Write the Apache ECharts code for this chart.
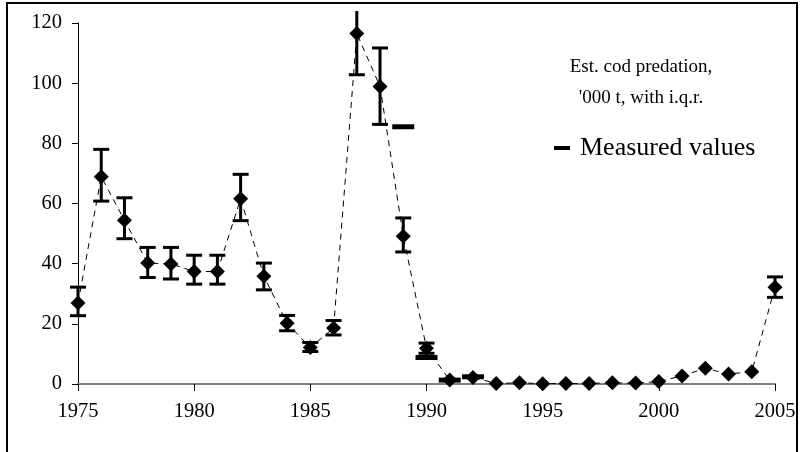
<!DOCTYPE html>
<html>
<head>
<meta charset="utf-8">
<script src="https://cdn.jsdelivr.net/npm/echarts@6/dist/echarts.min.js"></script>
<style>html,body{margin:0;padding:0;background:#fff;}#c{width:801px;height:452px;}</style>
</head>
<body>
<div id="c"></div>
<script>
const years = [1975,1976,1977,1978,1979,1980,1981,1982,1983,1984,1985,1986,1987,1988,1989,1990,1991,1992,1993,1994,1995,1996,1997,1998,1999,2000,2001,2002,2003,2004,2005];
const predation = [26.9,68.9,54.4,40.2,39.9,37.4,37.4,61.6,35.8,20.2,12.1,18.6,116.5,98.9,49.1,11.9,1.3,2.2,0.2,0.4,0.1,0.2,0.2,0.4,0.3,0.8,2.7,5.2,3.3,4.1,32.2];
const iqrYears = [1975,1976,1977,1978,1979,1980,1981,1982,1983,1984,1985,1986,1987,1988,1989,1990,2005];
const iqrLow  = [22.7,60.8,48.3,35.4,34.9,33.2,33.2,54.3,31.3,17.7,10.8,16.3,102.8,86.3,43.9,10.2,28.8];
const iqrHigh = [32.2,78.0,61.9,45.4,45.4,42.8,42.8,69.7,40.2,22.8,13.8,21.1,124.0,111.7,55.2,13.6,35.6];
const measuredYears = [1989,1990,1991,1992];
const measuredValues = [85.5,8.8,1.3,2.4];
const xTicks = [1975,1980,1985,1990,1995,2000,2005];
const yTicks = [0,20,40,60,80,100,120];
const legendLines = ["Est. cod predation,", "'000 t, with i.q.r."];
const measuredLabel = "Measured values";

const FONT = '"Liberation Serif", "Times New Roman", serif';
const yMax = yTicks[yTicks.length-1];

const chart = echarts.init(document.getElementById('c'), null, {renderer:'canvas'});
chart.setOption({
  animation:false,
  backgroundColor:'#fff',
  grid:{left:78,right:26,top:23,bottom:68,containLabel:false},
  xAxis:{
    type:'value', min:xTicks[0], max:xTicks[xTicks.length-1], interval:5,
    axisLine:{show:true,onZero:false,lineStyle:{color:'#808080',width:2}},
    axisTick:{show:true,inside:false,length:7,lineStyle:{color:'#000',width:1}},
    axisLabel:{color:'#000',fontFamily:FONT,fontSize:20.5,margin:17,formatter:v=>String(v)},
    splitLine:{show:false}
  },
  yAxis:{
    type:'value', min:0, max:yMax, interval:20,
    axisLine:{show:true,lineStyle:{color:'#000',width:1}},
    axisTick:{show:true,inside:false,length:6,lineStyle:{color:'#000',width:1}},
    axisLabel:{color:'#000',fontFamily:FONT,fontSize:20.5,margin:16,formatter:v=>String(v)},
    splitLine:{show:false}
  },
  series:[
    {
      type:'line',
      data: years.map((y,i)=>[y,predation[i]]),
      symbol:'diamond', symbolSize:15,
      itemStyle:{color:'#000'},
      lineStyle:{color:'#000',width:1,type:[6,5]},
      z:3
    },
    {
      type:'custom',
      clip:false,
      data: iqrYears.map((y,i)=>[y,iqrLow[i],iqrHigh[i]]),
      renderItem:function(params, api){
        const x = api.value(0), lo = api.value(1), hi = api.value(2);
        const pLo = api.coord([x,lo]), pHi = api.coord([x,hi]);
        const cw = 8;
        const st = {stroke:'#000',lineWidth:3};
        const children = [
          {type:'line',shape:{x1:pLo[0],y1:pLo[1],x2:pHi[0],y2:pHi[1]},style:st},
          {type:'line',shape:{x1:pLo[0]-cw,y1:pLo[1],x2:pLo[0]+cw,y2:pLo[1]},style:st}
        ];
        if (hi <= yMax) children.push({type:'line',shape:{x1:pHi[0]-cw,y1:pHi[1],x2:pHi[0]+cw,y2:pHi[1]},style:st});
        return {type:'group',children:children};
      },
      z:4
    },
    {
      type:'custom',
      data: measuredYears.map((y,i)=>[y,measuredValues[i]]),
      renderItem:function(params, api){
        const p = api.coord([api.value(0),api.value(1)]);
        return {type:'rect',shape:{x:p[0]-11,y:p[1]-2.5,width:22,height:5},style:{fill:'#000'}};
      },
      z:5
    }
  ],
  graphic:[
    {type:'rect',shape:{x:7,y:3,width:790,height:470},style:{fill:'none',stroke:'#000',lineWidth:2},z:0},
    {type:'text',x:641,y:67,style:{text:legendLines[0],font:'19px '+FONT,fill:'#000',textAlign:'center',textVerticalAlign:'middle'}},
    {type:'text',x:641,y:98,style:{text:legendLines[1],font:'19px '+FONT,fill:'#000',textAlign:'center',textVerticalAlign:'middle'}},
    {type:'rect',shape:{x:554,y:146,width:16,height:4},style:{fill:'#000'}},
    {type:'text',x:580,y:148,style:{text:measuredLabel,font:'26px '+FONT,fill:'#000',textAlign:'left',textVerticalAlign:'middle'}}
  ]
});
</script>
</body>
</html>
